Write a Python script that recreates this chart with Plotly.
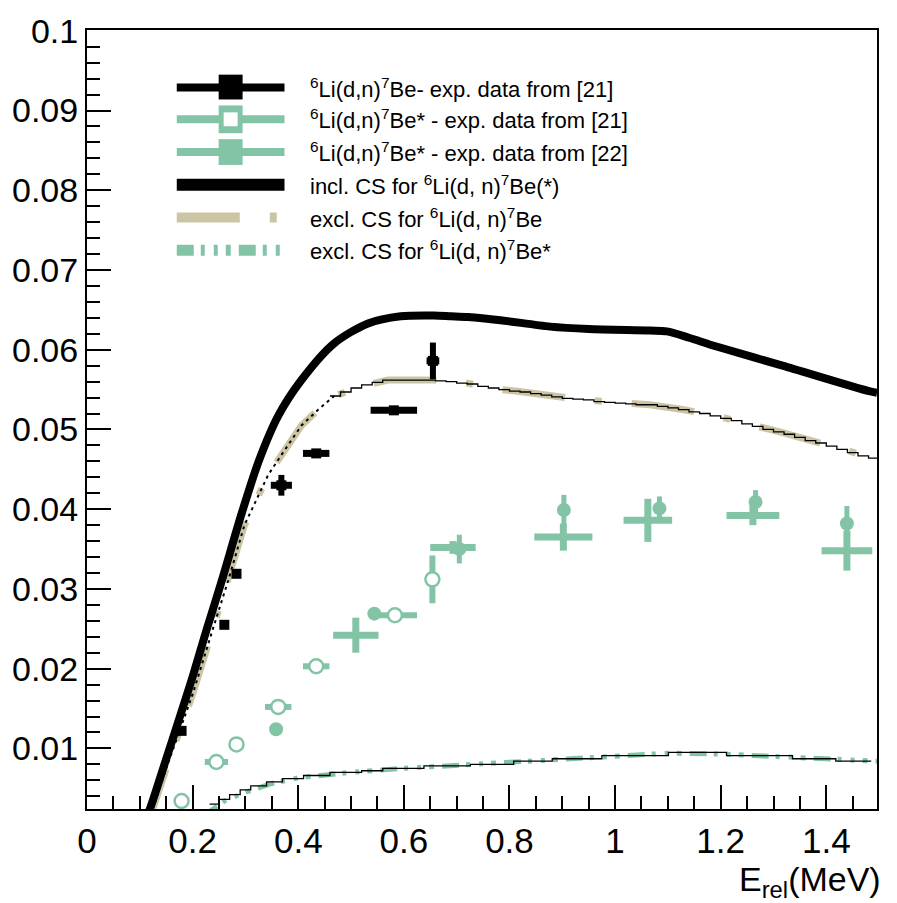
import plotly.graph_objects as go

# ---------------- theory curves ----------------
# inclusive cross section 6Li(d,n)7Be(*)
incl_x = [0.104, 0.12, 0.15, 0.175, 0.2, 0.226, 0.255, 0.292, 0.325, 0.362, 0.406, 0.468,
          0.532, 0.594, 0.657, 0.689, 0.721, 0.783, 0.877, 0.95, 1.066, 1.098, 1.14,
          1.192, 1.317, 1.481, 1.496]
incl_y = [0.0, 0.0026, 0.0087, 0.0138, 0.0190, 0.0248, 0.0310, 0.0393, 0.0460, 0.0517, 0.0562,
          0.0608, 0.0633, 0.0642, 0.0643, 0.0642, 0.0641, 0.0637, 0.0629, 0.0626, 0.0624,
          0.0623, 0.0615, 0.0604, 0.0580, 0.0548, 0.0546]

# exclusive cross section 6Li(d,n)7Be (smooth)
excl_x = [0.108, 0.125, 0.15, 0.175, 0.2, 0.236, 0.268, 0.298, 0.343, 0.368, 0.406, 0.438,
          0.468, 0.532, 0.570, 0.657, 0.721, 0.783, 0.815, 0.940, 1.066, 1.128, 1.192,
          1.317, 1.481, 1.496]
excl_y = [0.0, 0.0025, 0.0075, 0.0122, 0.0168, 0.0245, 0.0312, 0.0380, 0.0443, 0.0468,
          0.0505, 0.0525, 0.0542, 0.0556, 0.0562, 0.0562, 0.0558, 0.0550, 0.0548, 0.0537,
          0.0531, 0.0525, 0.0517, 0.0496, 0.0465, 0.0463]

# exclusive 6Li(d,n)7Be as histogram (bins of 0.02 MeV starting at 0.46 MeV)
excl_hist_lo = 0.46
excl_hist_w = 0.02
excl_hist = [0.0542, 0.0547, 0.0552, 0.0556, 0.0559, 0.0562, 0.0562, 0.0562, 0.0562, 0.0562,
             0.0561, 0.0560, 0.0558, 0.0557, 0.0554, 0.0552, 0.0550, 0.0548, 0.0547, 0.0545,
             0.0543, 0.0541, 0.0539, 0.0538, 0.0537, 0.0535, 0.0534, 0.0533, 0.0532, 0.0531,
             0.0531, 0.0529, 0.0527, 0.0525, 0.0522, 0.0520, 0.0517, 0.0514, 0.0511, 0.0507,
             0.0504, 0.0500, 0.0497, 0.0494, 0.0490, 0.0486, 0.0483, 0.0479, 0.0475, 0.0471,
             0.0467, 0.0464]

# exclusive cross section 6Li(d,n)7Be* (smooth)
exs_x = [0.22, 0.26, 0.30, 0.35, 0.40, 0.50, 0.60, 0.70, 0.80, 0.90, 1.00, 1.10, 1.20,
         1.30, 1.40, 1.496]
exs_y = [0.0015, 0.0034, 0.0045, 0.0056, 0.0063, 0.0070, 0.0075, 0.0079, 0.0083, 0.0087,
         0.0091, 0.0094, 0.0093, 0.0090, 0.0087, 0.0084]

# exclusive 6Li(d,n)7Be* as histogram
exs_edges = [0.232, 0.25, 0.27, 0.29, 0.31, 0.34, 0.37, 0.41, 0.46, 0.52, 0.56, 0.638, 0.726,
             0.808, 0.881, 0.975, 1.101, 1.211, 1.336, 1.418, 1.485]
exs_hist = [0.0030, 0.0036, 0.0042, 0.0048, 0.0053, 0.0058, 0.0062, 0.0066, 0.0070, 0.0072,
            0.0075, 0.0078, 0.0080, 0.0084, 0.0087, 0.0091, 0.0095, 0.0091, 0.0087, 0.0084]

# ---------------- experimental data ----------------
# 6Li(d,n)7Be, data from [21]
be_x = [0.179, 0.260, 0.283, 0.368, 0.434, 0.581, 0.655]
be_y = [0.0122, 0.0255, 0.0319, 0.0430, 0.0470, 0.0524, 0.0586]
be_ex = [0.0, 0.0, 0.008, 0.020, 0.025, 0.044, 0.012]
be_ey = [0.0, 0.0, 0.0, 0.0013, 0.0, 0.0, 0.0023]

# 6Li(d,n)7Be*, data from [21]
bs21_x = [0.179, 0.245, 0.283, 0.362, 0.434, 0.583, 0.654]
bs21_y = [0.0034, 0.0083, 0.0105, 0.0152, 0.0203, 0.0267, 0.0312]
bs21_ex = [0.0, 0.022, 0.0, 0.025, 0.025, 0.042, 0.0]
bs21_ey = [0.0, 0.0, 0.0, 0.0, 0.0, 0.0, 0.003]

# 6Li(d,n)7Be*, data from [22]
bs22_x = [0.509, 0.693, 0.902, 1.062, 1.261, 1.439]
bs22_y = [0.0242, 0.0352, 0.0365, 0.0386, 0.0392, 0.0348]
bs22_ex = [0.043, 0.043, 0.055, 0.046, 0.050, 0.048]
bs22_ey = [0.0022, 0.0008, 0.0017, 0.0027, 0.0012, 0.0025]

bs22c_x = [0.358, 0.544, 0.705, 0.903, 1.084, 1.266, 1.439]
bs22c_y = [0.0124, 0.0269, 0.0350, 0.0399, 0.0401, 0.0409, 0.0382]
bs22c_ey = [0.0, 0.0, 0.0018, 0.0019, 0.0015, 0.0015, 0.0022]

legend_labels = [
    "<sup>6</sup>Li(d,n)<sup>7</sup>Be- exp. data from [21]",
    "<sup>6</sup>Li(d,n)<sup>7</sup>Be* - exp. data from [21]",
    "<sup>6</sup>Li(d,n)<sup>7</sup>Be* - exp. data from [22]",
    "incl. CS for <sup>6</sup>Li(d, n)<sup>7</sup>Be(*)",
    "excl. CS for <sup>6</sup>Li(d, n)<sup>7</sup>Be",
    "excl. CS for <sup>6</sup>Li(d, n)<sup>7</sup>Be*",
]

BLACK = "#000000"
GREEN = "#84c4a6"
BEIGE = "#cbc5a5"
FONT = "Liberation Sans, Arial, sans-serif"
DASH_BE = "63px,30px,7px,30px"
DASH_BS = "17px,7px,4px,9px,4px,8px,5px,8px"

fig = go.Figure()

# beige exclusive curve and its histogram
fig.add_trace(go.Scatter(x=excl_x, y=excl_y, mode="lines",
                         line=dict(color=BEIGE, width=7, dash=DASH_BE)))
low = [(x, y) for x, y in zip(excl_x, excl_y) if x <= 0.47]
fig.add_trace(go.Scatter(x=[p[0] for p in low], y=[p[1] for p in low], mode="lines",
                         line=dict(color=BLACK, width=2, dash="3px,4px")))
edges = [excl_hist_lo + i * excl_hist_w for i in range(len(excl_hist) + 1)]
fig.add_trace(go.Scatter(x=edges, y=excl_hist + [excl_hist[-1]], mode="lines",
                         line=dict(color=BLACK, width=1.3, shape="hv")))

# green exclusive curve and its histogram
fig.add_trace(go.Scatter(x=exs_x, y=exs_y, mode="lines",
                         line=dict(color=GREEN, width=5, dash=DASH_BS)))
fig.add_trace(go.Scatter(x=exs_edges, y=exs_hist + [exs_hist[-1]], mode="lines",
                         line=dict(color=BLACK, width=1.3, shape="hv")))

# inclusive curve
fig.add_trace(go.Scatter(x=incl_x, y=incl_y, mode="lines",
                         line=dict(color=BLACK, width=8, shape="spline", smoothing=0.8)))

# data points
fig.add_trace(go.Scatter(
    x=bs22_x, y=bs22_y, mode="markers",
    marker=dict(symbol="circle", size=9, color=GREEN),
    error_x=dict(type="data", array=bs22_ex, color=GREEN, thickness=7, width=0),
    error_y=dict(type="data", array=bs22_ey, color=GREEN, thickness=7, width=0)))
fig.add_trace(go.Scatter(
    x=bs22c_x, y=bs22c_y, mode="markers",
    marker=dict(symbol="circle", size=14, color=GREEN),
    error_y=dict(type="data", array=bs22c_ey, color=GREEN, thickness=5, width=0)))
fig.add_trace(go.Scatter(
    x=bs21_x, y=bs21_y, mode="markers",
    marker=dict(symbol="circle", size=14, color="white", line=dict(color=GREEN, width=2.5)),
    error_x=dict(type="data", array=bs21_ex, color=GREEN, thickness=6, width=0),
    error_y=dict(type="data", array=bs21_ey, color=GREEN, thickness=6, width=0)))
fig.add_trace(go.Scatter(
    x=be_x, y=be_y, mode="markers",
    marker=dict(symbol="square", size=10, color=BLACK),
    error_x=dict(type="data", array=be_ex, color=BLACK, thickness=7, width=0),
    error_y=dict(type="data", array=be_ey, color=BLACK, thickness=6, width=0)))

# ---------------- legend box (drawn in paper coordinates) ----------------
L, R, T, B = 85, 877, 24, 809


def px(p):
    return (p - L) / (R - L)


def py(p):
    return (B - p) / (B - T)


def pline(x0, x1, y, color, width, dash="solid"):
    return dict(type="line", xref="paper", yref="paper", x0=px(x0), x1=px(x1),
                y0=py(y), y1=py(y), line=dict(color=color, width=width, dash=dash))


def prect(x0, x1, y0, y1, color):
    return dict(type="rect", xref="paper", yref="paper", x0=px(x0), x1=px(x1),
                y0=py(y0), y1=py(y1), fillcolor=color, line=dict(width=0))


rows = [82, 114, 147, 180, 213, 246]
s0, s1, mx = 175, 283, 229
shapes = [
    # row 1: black error bar sample
    pline(s0, s1, rows[0], BLACK, 8),
    prect(mx - 12, mx + 12, rows[0] - 13, rows[0] + 12, BLACK),
    # row 2: green, open marker
    pline(s0, s1, rows[1], GREEN, 8),
    prect(mx - 12, mx + 12, rows[1] - 14, rows[1] + 14, GREEN),
    prect(mx - 7, mx + 7, rows[1] - 7, rows[1] + 7, "white"),
    # row 3: green, filled marker
    pline(s0, s1, rows[2], GREEN, 8),
    prect(mx - 12, mx + 12, rows[2] - 13, rows[2] + 13, GREEN),
    # row 4: inclusive curve
    pline(s0, s1, rows[3], BLACK, 12),
    # row 5: beige dashed
    pline(s0, s1, rows[4], BEIGE, 10, DASH_BE),
    # row 6: green dash-dot
    pline(s0, s1, rows[5], GREEN, 11, DASH_BS),
]

annotations = []
for r, label in zip(rows, legend_labels):
    annotations.append(dict(text=label, x=px(307), y=py(r), xref="paper", yref="paper",
                            xanchor="left", yanchor="middle", showarrow=False,
                            font=dict(family=FONT, size=22, color=BLACK)))

# axis title, right-aligned under the axis
annotations.append(dict(text="E<sub>rel</sub>(MeV)", x=px(882), y=py(905), xref="paper",
                        yref="paper", xanchor="right", yanchor="bottom", showarrow=False,
                        borderpad=0, font=dict(family=FONT, size=34, color=BLACK)))

fig.update_layout(
    width=897, height=903,
    margin=dict(l=L, r=897 - R, t=T, b=903 - B),
    paper_bgcolor="white", plot_bgcolor="white",
    showlegend=False,
    shapes=shapes, annotations=annotations,
    font=dict(family=FONT, color=BLACK),
)
fig.update_xaxes(
    range=[-0.0001, 1.496], tickmode="linear", tick0=0, dtick=0.2,
    ticks="inside", ticklen=24, tickwidth=2, tickcolor=BLACK,
    minor=dict(dtick=0.05, tick0=0, ticks="inside", ticklen=13, tickwidth=2, tickcolor=BLACK),
    showline=True, linecolor=BLACK, linewidth=2, mirror=True,
    showgrid=False, zeroline=False,
    tickfont=dict(family=FONT, size=35, color=BLACK),
)
fig.update_yaxes(
    range=[0.0024, 0.1001], tickmode="linear", tick0=0, dtick=0.01,
    ticks="inside", ticklen=24, tickwidth=2, tickcolor=BLACK,
    minor=dict(dtick=0.002, tick0=0, ticks="inside", ticklen=13, tickwidth=2, tickcolor=BLACK),
    showline=True, linecolor=BLACK, linewidth=2, mirror=True,
    showgrid=False, zeroline=False,
    tickfont=dict(family=FONT, size=34, color=BLACK),
)

fig.write_html("out.html")
